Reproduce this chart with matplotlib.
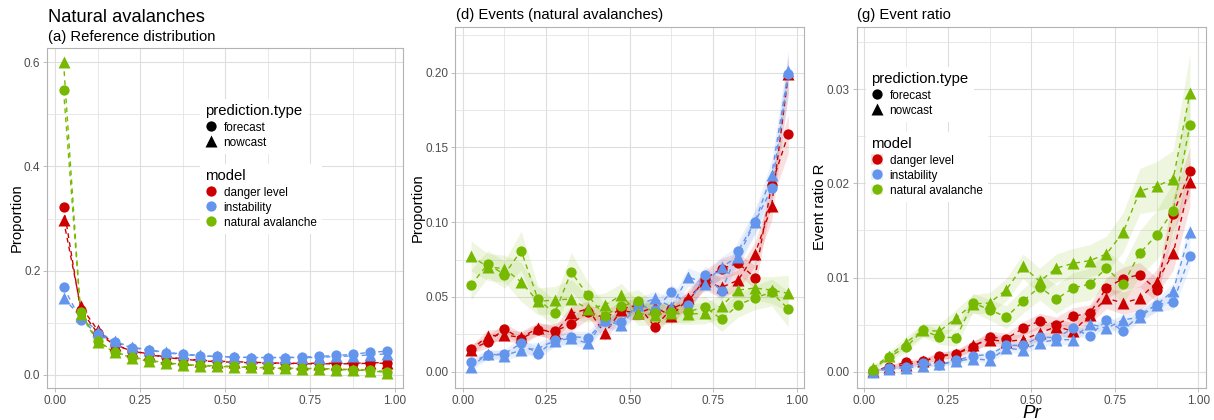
import matplotlib
matplotlib.use("Agg")
import matplotlib.pyplot as plt
from matplotlib.lines import Line2D
from matplotlib.patches import Patch
import numpy as np

plt.rcParams['font.family'] = ['Liberation Sans', 'DejaVu Sans']

# ---------------- data ----------------
pr_bins = [0.025, 0.075, 0.125, 0.175, 0.225, 0.275, 0.325, 0.375, 0.425, 0.475,
           0.525, 0.575, 0.625, 0.675, 0.725, 0.775, 0.825, 0.875, 0.925, 0.975]
models = ["danger level", "instability", "natural avalanche"]
prediction_types = ["forecast", "nowcast"]

# (a) reference distribution
ref_danger_fc = [0.323, 0.125, 0.080, 0.057, 0.046, 0.040, 0.034, 0.031, 0.028, 0.026,
                 0.025, 0.024, 0.023, 0.022, 0.022, 0.022, 0.022, 0.022, 0.023, 0.023]
ref_danger_nc = [0.297, 0.132, 0.086, 0.058, 0.046, 0.039, 0.033, 0.030, 0.027, 0.025,
                 0.024, 0.023, 0.022, 0.022, 0.021, 0.021, 0.021, 0.021, 0.022, 0.022]
ref_instab_fc = [0.168, 0.106, 0.078, 0.062, 0.052, 0.047, 0.042, 0.039, 0.036, 0.035,
                 0.034, 0.033, 0.033, 0.033, 0.034, 0.035, 0.037, 0.039, 0.043, 0.045]
ref_instab_nc = [0.147, 0.112, 0.083, 0.064, 0.053, 0.048, 0.043, 0.040, 0.037, 0.035,
                 0.034, 0.033, 0.033, 0.033, 0.033, 0.033, 0.035, 0.036, 0.038, 0.040]
ref_natav_fc = [0.546, 0.121, 0.065, 0.044, 0.034, 0.028, 0.023, 0.020, 0.018, 0.017,
                0.016, 0.015, 0.014, 0.013, 0.012, 0.012, 0.011, 0.010, 0.009, 0.006]
ref_natav_nc = [0.600, 0.117, 0.063, 0.043, 0.033, 0.026, 0.022, 0.019, 0.017, 0.016,
                0.015, 0.014, 0.013, 0.012, 0.011, 0.011, 0.010, 0.009, 0.008, 0.004]

# (d) events (natural avalanches)
ev_danger_fc = [0.015, 0.020, 0.0285, 0.022, 0.028, 0.027, 0.032, 0.040, 0.036, 0.042,
                0.0446, 0.030, 0.042, 0.047, 0.062, 0.069, 0.0725, 0.063, 0.125, 0.159]
ev_danger_nc = [0.0145, 0.024, 0.0245, 0.023, 0.029, 0.0256, 0.039, 0.042, 0.0256, 0.041,
                0.039, 0.0435, 0.037, 0.049, 0.0606, 0.0564, 0.0613, 0.0787, 0.111, 0.199]
ev_instab_fc = [0.0067, 0.011, 0.012, 0.019, 0.012, 0.021, 0.0234, 0.0227, 0.034, 0.0334,
                0.045, 0.041, 0.0535, 0.0446, 0.0647, 0.054, 0.081, 0.100, 0.1226, 0.199]
ev_instab_nc = [0.0033, 0.012, 0.0107, 0.0145, 0.0156, 0.0207, 0.0223, 0.019, 0.0346, 0.031,
                0.0446, 0.049, 0.0435, 0.0635, 0.059, 0.070, 0.077, 0.100, 0.1315, 0.2013]
ev_natav_fc = [0.058, 0.072, 0.065, 0.081, 0.0486, 0.039, 0.0667, 0.051, 0.0375, 0.044,
               0.047, 0.039, 0.040, 0.040, 0.0435, 0.035, 0.0446, 0.0495, 0.053, 0.042]
ev_natav_nc = [0.0775, 0.070, 0.069, 0.060, 0.047, 0.048, 0.0486, 0.042, 0.0446, 0.051,
               0.039, 0.038, 0.039, 0.0386, 0.039, 0.044, 0.0546, 0.056, 0.0546, 0.0524]
ev_danger_hw = [0.003, 0.004, 0.004, 0.004, 0.004, 0.005, 0.005, 0.005, 0.005, 0.005,
                0.005, 0.005, 0.005, 0.006, 0.006, 0.007, 0.007, 0.008, 0.010, 0.013]
ev_instab_hw = [0.003, 0.003, 0.003, 0.004, 0.004, 0.004, 0.004, 0.004, 0.005, 0.005,
                0.005, 0.005, 0.005, 0.006, 0.006, 0.007, 0.007, 0.008, 0.010, 0.014]
ev_natav_hw = [0.010, 0.009, 0.009, 0.013, 0.009, 0.009, 0.013, 0.009, 0.008, 0.008,
               0.008, 0.007, 0.007, 0.007, 0.007, 0.008, 0.008, 0.008, 0.009, 0.012]

# (g) event ratio
er_danger_fc = [0.0001, 0.0005, 0.0010, 0.0011, 0.0017, 0.0019, 0.0026, 0.0037, 0.0035, 0.0046,
                0.0054, 0.0050, 0.0059, 0.0062, 0.0089, 0.0099, 0.0103, 0.0087, 0.0168, 0.0213]
er_danger_nc = [0.0001, 0.0005, 0.0007, 0.0011, 0.0016, 0.0019, 0.0028, 0.0034, 0.0032, 0.0034,
                0.0041, 0.0048, 0.0043, 0.0060, 0.0078, 0.0073, 0.0078, 0.0095, 0.0126, 0.0201]
er_instab_fc = [0.0001, 0.0004, 0.0005, 0.0009, 0.0007, 0.0012, 0.0017, 0.0018, 0.0028, 0.0028,
                0.0037, 0.0036, 0.0046, 0.0038, 0.0055, 0.0043, 0.0061, 0.0071, 0.0074, 0.0123]
er_instab_nc = [0.0000, 0.0003, 0.0004, 0.0006, 0.0008, 0.0011, 0.0014, 0.0012, 0.0025, 0.0023,
                0.0031, 0.0034, 0.0034, 0.0051, 0.0046, 0.0055, 0.0058, 0.0071, 0.0086, 0.0148]
er_natav_fc = [0.0002, 0.0016, 0.0026, 0.0044, 0.0037, 0.0036, 0.0073, 0.0066, 0.0058, 0.0075,
               0.0090, 0.0077, 0.0089, 0.0093, 0.0110, 0.0093, 0.0126, 0.0145, 0.0171, 0.0262]
er_natav_nc = [0.0004, 0.0017, 0.0031, 0.0044, 0.0043, 0.0057, 0.0072, 0.0073, 0.0087, 0.0112,
               0.0096, 0.0110, 0.0115, 0.0118, 0.0125, 0.0148, 0.0192, 0.0197, 0.0205, 0.0296]
er_danger_hw = [0.0001, 0.0002, 0.0003, 0.0003, 0.0004, 0.0004, 0.0005, 0.0006, 0.0006, 0.0007,
                0.0008, 0.0008, 0.0009, 0.0009, 0.0011, 0.0012, 0.0013, 0.0013, 0.0018, 0.0025]
er_instab_hw = [0.0001, 0.0001, 0.0002, 0.0002, 0.0002, 0.0003, 0.0003, 0.0003, 0.0004, 0.0004,
                0.0005, 0.0005, 0.0005, 0.0005, 0.0006, 0.0006, 0.0006, 0.0007, 0.0008, 0.0012]
er_natav_hw = [0.0002, 0.0004, 0.0006, 0.0007, 0.0008, 0.0009, 0.0010, 0.0011, 0.0012, 0.0013,
               0.0014, 0.0015, 0.0016, 0.0017, 0.0019, 0.0021, 0.0024, 0.0026, 0.0030, 0.0042]

x_ticks = [0.00, 0.25, 0.50, 0.75, 1.00]
x_ticklabels = ["0.00", "0.25", "0.50", "0.75", "1.00"]
a_ticks, a_labels = [0.0, 0.2, 0.4, 0.6], ["0.0", "0.2", "0.4", "0.6"]
d_ticks, d_labels = [0.00, 0.05, 0.10, 0.15, 0.20], ["0.00", "0.05", "0.10", "0.15", "0.20"]
g_ticks, g_labels = [0.00, 0.01, 0.02, 0.03], ["0.00", "0.01", "0.02", "0.03"]

# ---------------- style ----------------
colors = {"danger level": "#CC0000", "instability": "#6495ED", "natural avalanche": "#77B900"}
markers = {"forecast": "o", "nowcast": "^"}
msizes = {"forecast": 7.4, "nowcast": 8.2}

W, H = 1214, 420
fig = plt.figure(figsize=(W / 100, H / 100), dpi=100)


def px_rect(l, t, r, b):
    return [l / W, 1 - b / H, (r - l) / W, (b - t) / H]


ax1 = fig.add_axes(px_rect(47.4, 47.7, 402.7, 388.0))
ax2 = fig.add_axes(px_rect(455.2, 26.7, 804.2, 387.7))
ax3 = fig.add_axes(px_rect(856.8, 26.7, 1205.8, 387.7))

GRID = "#DEDEDE"
TICKC = "#4D4D4D"
BORDER = "#B3B3B3"


def style(ax, yticks, ylabels, ylim):
    ax.set_xlim(-0.0225, 1.0225)
    ax.set_ylim(*ylim)
    ax.set_xticks(x_ticks)
    ax.set_xticklabels(x_ticklabels)
    ax.set_yticks(yticks)
    ax.set_yticklabels(ylabels)
    xt = np.array(x_ticks)
    ax.set_xticks((xt[:-1] + xt[1:]) / 2, minor=True)
    yt = np.array(yticks)
    step = yt[1] - yt[0]
    ymin_minor = np.concatenate([(yt[:-1] + yt[1:]) / 2, [yt[-1] + step / 2]])
    ax.set_yticks([v for v in ymin_minor if ylim[0] < v < ylim[1]], minor=True)
    ax.grid(which="major", color=GRID, lw=0.8)
    ax.grid(which="minor", color="#E4E4E4", lw=0.6)
    ax.set_axisbelow(True)
    for s in ax.spines.values():
        s.set_color(BORDER)
        s.set_linewidth(0.8)
    ax.tick_params(which="major", colors=BORDER, length=3, width=0.6,
                   labelcolor=TICKC, labelsize=8.5, pad=2)
    ax.tick_params(which="minor", length=0)


def draw(ax, series, hws=None):
    # series: {model: {ptype: values}}
    for m in models:
        for p in prediction_types:
            vals = np.array(series[m][p])
            if hws is not None:
                hw = np.array(hws[m])
                ax.fill_between(pr_bins, vals - hw, vals + hw, color=colors[m],
                                alpha=0.12, lw=0, zorder=1)
    for m in models:
        for p in prediction_types:
            vals = series[m][p]
            ax.plot(pr_bins, vals, ls=(0, (3.5, 3)), lw=1.0, color=colors[m], zorder=2)
    for m in models:
        for p in prediction_types:
            vals = series[m][p]
            ax.plot(pr_bins, vals, ls="none", marker=markers[p], ms=msizes[p],
                    mec="none", color=colors[m], zorder=3)


ref = {"danger level": {"forecast": ref_danger_fc, "nowcast": ref_danger_nc},
       "instability": {"forecast": ref_instab_fc, "nowcast": ref_instab_nc},
       "natural avalanche": {"forecast": ref_natav_fc, "nowcast": ref_natav_nc}}
ev = {"danger level": {"forecast": ev_danger_fc, "nowcast": ev_danger_nc},
      "instability": {"forecast": ev_instab_fc, "nowcast": ev_instab_nc},
      "natural avalanche": {"forecast": ev_natav_fc, "nowcast": ev_natav_nc}}
ev_hw = {"danger level": ev_danger_hw, "instability": ev_instab_hw,
         "natural avalanche": ev_natav_hw}
er = {"danger level": {"forecast": er_danger_fc, "nowcast": er_danger_nc},
      "instability": {"forecast": er_instab_fc, "nowcast": er_instab_nc},
      "natural avalanche": {"forecast": er_natav_fc, "nowcast": er_natav_nc}}
er_hw = {"danger level": er_danger_hw, "instability": er_instab_hw,
         "natural avalanche": er_natav_hw}

style(ax1, a_ticks, a_labels, (-0.0255, 0.628))
style(ax2, d_ticks, d_labels, (-0.0107, 0.2308))
style(ax3, g_ticks, g_labels, (-0.0017, 0.03665))

draw(ax1, ref)
draw(ax2, ev, ev_hw)
draw(ax3, er, er_hw)

# ---------------- texts ----------------
def ftext(xp, yp, s, **kw):
    fig.text(xp / W, 1 - yp / H, s, **kw)


ftext(48, 21.7, "Natural avalanches", fontsize=13.2, va="baseline", ha="left")
ftext(48, 40.5, "(a) Reference distribution", fontsize=10.7, va="baseline", ha="left")
ftext(455.7, 19.0, "(d) Events (natural avalanches)", fontsize=10.7, va="baseline", ha="left")
ftext(856.7, 19.0, "(g) Event ratio", fontsize=10.7, va="baseline", ha="left")

ftext(17, (47.7 + 388) / 2, "Proportion", fontsize=10.7, rotation=90, va="center", ha="center")
ftext(418, (26.7 + 387.7) / 2, "Proportion", fontsize=10.7, rotation=90, va="center", ha="center")
ftext(820, (26.7 + 387.7) / 2, "Event ratio R", fontsize=10.7, rotation=90, va="center", ha="center")
ftext(1031.3, 417.5, "Pr", fontsize=13.5, style="italic", va="baseline", ha="center")

# ---------------- legends ----------------
def add_legends(ax, tl1, tl2, ribbon_keys=False):
    h1 = [Line2D([], [], ls="none", marker=markers[p], color="black", mec="none",
                 ms=msizes[p]) for p in prediction_types]
    h2 = []
    for m in models:
        dot = Line2D([], [], ls="none", marker="o", color=colors[m], mec="none", ms=7.4)
        if ribbon_keys:
            h2.append((Patch(facecolor=colors[m], alpha=0.12, lw=0), dot))
        else:
            h2.append(dot)
    common = dict(loc="upper left", bbox_transform=fig.transFigure, frameon=True,
                  facecolor="white", edgecolor="none", framealpha=1, fancybox=False,
                  fontsize=8.5, title_fontsize=10.7, handlelength=1.0, handleheight=1.0,
                  handletextpad=0.55, labelspacing=0.25, borderpad=0.45,
                  borderaxespad=0, alignment="left")
    lg1 = ax.legend(h1, prediction_types, title="prediction.type",
                    bbox_to_anchor=(tl1[0] / W, 1 - tl1[1] / H), **common)
    ax.add_artist(lg1)
    lg2 = ax.legend(h2, models, title="model",
                    bbox_to_anchor=(tl2[0] / W, 1 - tl2[1] / H), **common)
    ax.add_artist(lg2)


add_legends(ax1, (200, 99), (200, 164))
add_legends(ax3, (866, 67), (866, 132), ribbon_keys=True)

fig.savefig("out.png", dpi=100)
